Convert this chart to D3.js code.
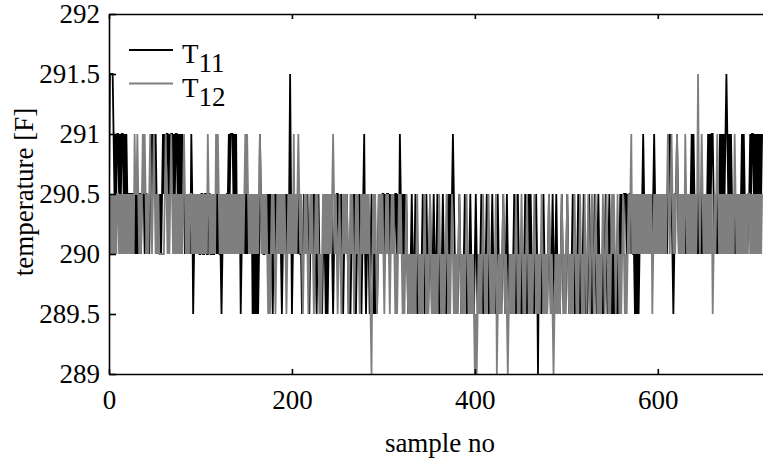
<!DOCTYPE html>
<html>
<head>
<meta charset="utf-8">
<script src="https://cdn.jsdelivr.net/npm/d3@7"></script>
<style>
  body { margin: 0; background: #fff; }
</style>
</head>
<body>
<div id="chart"></div>
<script>
// quantised temperature levels [F]; series are stored as indices into this list
const levels = [289, 289.5, 290, 290.5, 291, 291.5];

// T11, one digit per sample (10 samples per chunk)
const t11Codes = [
  '3555543434', '4343443434', '3233233323', '2323323332', '3323233434',
  '3432323234', '3434434344', '3434434343', '4332323232', '4312323232',
  '2332233223', '3223223232', '3221232323', '3434443434', '2323123232',
  '3232323121', '2121243232', '2323232321', '2323232321', '2323232353',
  '1232323232', '2123232321', '2323232123', '2121232121', '2323212323',
  '3232321232', '3212123232', '1232321234', '2123212321', '2121232323',
  '3232332323', '2323323243', '2323232121', '2321232121', '2123212321',
  '2321232123', '2121232121', '2323234321', '2123212123', '2121232121',
  '2321212321', '2123212123', '2121232121', '2321232121', '2123212321',
  '2121232123', '2321212320', '2121232121', '2321232123', '2121232121',
  '2321212321', '2123212123', '2121232121', '2321232121', '2123212321',
  '2121212123', '2323332323', '3232212121', '2323432323', '2323234323',
  '2323232323', '2343432123', '3432323232', '3232323434', '3232323232',
  '3232343434', '4323232343', '4343454343', '4323232323', '2343432323',
  '3434434343', '43434'
];

// T12, same encoding
const t12Codes = [
  '2323232323', '3232323232', '3232323243', '3432323434', '3232343234',
  '3232322222', '2343232343', '2323232323', '2343232323', '3232323232',
  '3232323243', '2323232434', '3232323232', '3232323232', '3232323234',
  '3432323232', '3232343232', '3232121232', '3212323232', '3232123232',
  '3242323432', '3212323212', '3232123232', '1212323232', '3232343232',
  '1232123232', '3212323212', '3232123232', '3232321023', '2321232323',
  '2123232123', '2321212323', '2121232121', '2121212321', '2121232121',
  '2321212121', '2321212123', '2121232121', '2123212121', '2321212121',
  '0101212123', '2121232121', '2123012121', '2321210121', '2121232121',
  '2321212321', '2121232121', '2123212121', '2321210121', '2121232121',
  '2321212123', '2121232121', '3212321232', '1232121212', '3212321212',
  '3232123212', '1232121232', '3423232323', '2323232323', '2323123232',
  '3232323232', '3432343232', '3432323232', '4323232323', '2323532343',
  '2323232323', '1232343232', '3232323232', '3232432323', '2323232323',
  '3232323232', '32323'
];

const xTicks = [0, 200, 400, 600];
const yTicks = [289, 289.5, 290, 290.5, 291, 291.5, 292];
const seriesNames = ['11', '12'];
const seriesColors = ['#000000', '#7f7f7f'];

const decode = codes => codes.join('').split('').map(c => levels[+c]);
const series = [decode(t11Codes), decode(t12Codes)];

const FONT = '"Liberation Serif", "Times New Roman", Times, serif';
const W = 763, H = 460;
const margin = { left: 109, top: 14, bottom: 374 };
const x = d3.scaleLinear().domain([0, 715]).range([margin.left, W]);
const y = d3.scaleLinear().domain([289, 292]).range([margin.bottom, margin.top]);

const svg = d3.select('#chart').append('svg')
    .attr('width', W)
    .attr('height', H)
    .attr('font-family', FONT)
    .style('font-family', FONT)
    .style('display', 'block');

svg.append('defs').append('clipPath')
    .attr('id', 'plot-clip')
    .append('rect')
    .attr('x', margin.left)
    .attr('y', margin.top - 1)
    .attr('width', W - margin.left)
    .attr('height', margin.bottom - margin.top + 2);

// data lines, T11 first so T12 sits on top
const line = d3.line()
    .x((d, i) => x(i))
    .y(d => y(d));

const plot = svg.append('g').attr('clip-path', 'url(#plot-clip)');
series.forEach((vals, k) => {
    plot.append('path')
        .datum(vals)
        .attr('fill', 'none')
        .attr('stroke', seriesColors[k])
        .attr('stroke-width', 1.8)
        .attr('d', line);
});

// axes: ticks point inwards, d3's default sans-serif is replaced
function styleAxis(g) {
    g.attr('font-family', FONT).attr('font-size', 27);
    g.selectAll('path, line').attr('stroke', '#000').attr('stroke-width', 1.6);
    g.selectAll('text').attr('fill', '#000').style('font-family', FONT);
}

svg.append('g')
    .attr('transform', `translate(${margin.left},0)`)
    .call(d3.axisLeft(y).tickValues(yTicks).tickFormat(d3.format('~g'))
        .tickSizeInner(-7).tickSizeOuter(0).tickPadding(9))
    .call(styleAxis);

svg.append('g')
    .attr('transform', `translate(0,${margin.bottom})`)
    .call(d3.axisBottom(x).tickValues(xTicks).tickFormat(d3.format('d'))
        .tickSizeInner(-5).tickSizeOuter(0).tickPadding(16))
    .call(styleAxis);

svg.append('g')
    .attr('transform', `translate(0,${margin.top})`)
    .call(d3.axisTop(x).tickValues(xTicks).tickFormat('')
        .tickSizeInner(-5).tickSizeOuter(0))
    .call(styleAxis);

// axis titles
svg.append('text')
    .attr('x', 440)
    .attr('y', 452)
    .attr('text-anchor', 'middle')
    .style('font-family', FONT)
    .style('font-size', '27px')
    .text('sample no');

svg.append('text')
    .attr('transform', 'translate(33,192) rotate(-90)')
    .attr('text-anchor', 'middle')
    .style('font-family', FONT)
    .style('font-size', '27px')
    .text('temperature [F]');

// legend
const legend = svg.append('g');
seriesNames.forEach((name, k) => {
    const ly = 50 + k * 33.5;
    legend.append('line')
        .attr('x1', 129).attr('x2', 173)
        .attr('y1', ly).attr('y2', ly)
        .attr('stroke', seriesColors[k])
        .attr('stroke-width', 1.8);
    const t = legend.append('text')
        .attr('x', 182)
        .attr('y', ly + 13)
        .style('font-family', FONT)
        .style('font-size', '27px');
    t.append('tspan').text('T');
    t.append('tspan')
        .attr('dy', 9)
        .text(name);
});
</script>
</body>
</html>
